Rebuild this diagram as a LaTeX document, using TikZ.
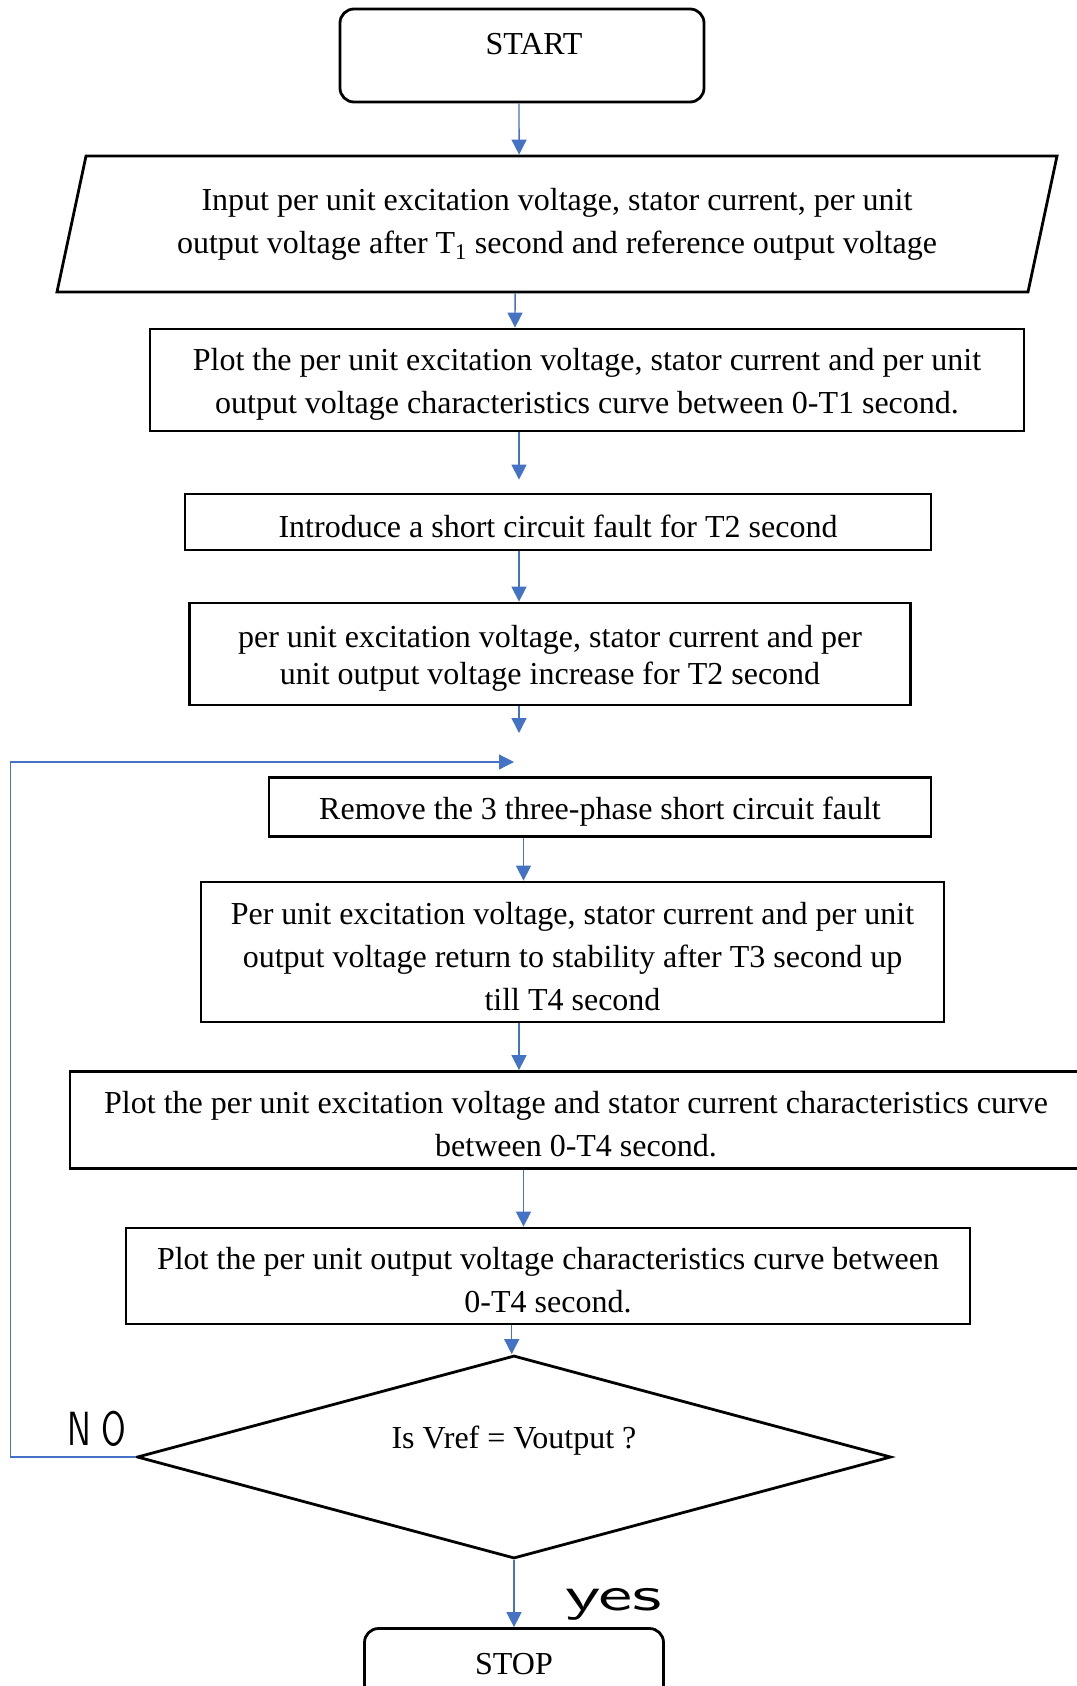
\documentclass[tikz,border=0pt]{standalone}
\usepackage{fontspec}
\setmainfont{Liberation Serif}
\newfontfamily\handfont{lmsans10-regular.otf}[FakeStretch=0.7]
\newfontfamily\handwide{lmsans10-regular.otf}[FakeStretch=1.6]
\usetikzlibrary{shapes.geometric,arrows.meta}
\definecolor{lineblue}{RGB}{68,114,196}

\begin{document}
\begin{tikzpicture}[x=1pt, y=-1pt, >={Triangle[length=15pt,width=15pt]}, font=\fontsize{32}{43}\selectfont] % one unit per pixel of the page
\tikzstyle{startstop} = [rectangle, rounded corners=14pt, draw=black, line width=2.8pt, minimum width=364pt, minimum height=93pt, text depth=23pt]
\tikzstyle{io} = [trapezium, trapezium left angle=72, trapezium right angle=108, trapezium stretches=true, draw=black, line width=2.8pt, align=center, minimum width=1003pt, minimum height=136pt, inner sep=0pt]
\tikzstyle{process} = [rectangle, draw=black, line width=2.8pt, align=center, inner sep=0pt] % text height is raised per box so the text sits a little low
\tikzstyle{decision} = [diamond, shape aspect=3.7, draw=black, line width=2.8pt, minimum width=754pt, minimum height=203pt, inner sep=0pt, text depth=40pt]
\tikzstyle{arrow} = [->, line width=1.4pt, draw=lineblue]
\tikzstyle{loopback} = [->, line width=1.2pt, draw=lineblue]

\useasboundingbox (0,0) rectangle (1076,1686);

% Define the flowchart steps from top to bottom
\node[startstop] (start) at (522,55.5) {\hspace*{24pt}START};
\node[io, below of=start, node distance=168.5pt, xshift=35pt] (input) {Input per unit excitation voltage, stator current, per unit\\ output voltage after T\textsubscript{1} second and reference output voltage};
\node[process, below of=input, node distance=156pt, xshift=30pt, minimum width=874pt, minimum height=102pt, text height=74pt] (plotA) {Plot the per unit excitation voltage, stator current and per unit\\ output voltage characteristics curve between 0-T1 second.};
\node[process, below of=plotA, node distance=142pt, xshift=-29pt, minimum width=746pt, minimum height=56pt, text height=31pt] (fault) {Introduce a short circuit fault for T2 second};
\node[process, below of=fault, node distance=132pt, xshift=-8pt, minimum width=721pt, minimum height=102pt, text height=68pt, font=\fontsize{32}{37}\selectfont] (rise) {per unit excitation voltage, stator current and per\\ unit output voltage increase for T2 second};
\coordinate[below of=rise, node distance=79pt, xshift=-31pt] (merge);
\coordinate[below of=rise, node distance=108pt, xshift=-36pt] (backin);
\node[process, below of=rise, node distance=153pt, xshift=50pt, minimum width=662pt, minimum height=59pt, text height=31pt] (remove) {Remove the 3 three-phase short circuit fault};
\node[process, below of=remove, node distance=145pt, xshift=-27.5pt, minimum width=743pt, minimum height=140pt, text height=117pt] (stable) {Per unit excitation voltage, stator current and per unit\\ output voltage return to stability after T3 second up\\ till T4 second};
\node[process, below of=stable, node distance=168pt, xshift=3.5pt, minimum width=1012pt, minimum height=97pt, text height=74pt] (plotB) {Plot the per unit excitation voltage and stator current characteristics curve\\ between 0-T4 second.};
\node[process, below of=plotB, node distance=156pt, xshift=-28pt, minimum width=844pt, minimum height=96pt, text height=74pt] (plotC) {Plot the per unit output voltage characteristics curve between\\ 0-T4 second.};
\node[decision, below of=plotC, node distance=181pt, xshift=-34pt] (check) {Is Vref = Voutput ?};
\node[startstop, below of=check, node distance=218pt, minimum width=299pt] (stop) {STOP};

% Answers of the check
\node[xshift=-39pt, yshift=28pt, font=\fontsize{48}{48}\handfont] (no) at (check.west) {N\hspace{10pt}O};
\node[xshift=100pt, yshift=-44pt, font=\fontsize{48}{48}\handwide] (yes) at (check.south) {yes};

% Draw arrows between the steps
\draw[arrow] ([xshift=-3pt]start.south) -- ([xshift=-38pt]input.north);
\draw[arrow] ([xshift=-42pt]input.south) -- ([xshift=-72pt]plotA.north);
\draw[arrow] ([xshift=-68pt]plotA.south) -- ([xshift=-39pt, yshift=13pt]fault.north);
\draw[arrow] ([xshift=-39pt]fault.south) -- ([xshift=-31pt]rise.north);
\draw[arrow] ([xshift=-31pt]rise.south) -- (merge);
\draw[arrow] ([xshift=-76.5pt]remove.south) -- ([xshift=-49pt]stable.north);
\draw[arrow] ([xshift=-53.5pt]stable.south) -- ([xshift=-57pt]plotB.north);
\draw[arrow] ([xshift=-52.5pt]plotB.south) -- ([xshift=-24.5pt]plotC.north);
\draw[arrow] ([xshift=-36.3pt]plotC.south) -- ([xshift=-2.3pt]check.north);
\draw[arrow] (check.south) -- (stop.north);
\draw[loopback] (check.west) -- ++(-125pt,0pt) |- (backin);

\end{tikzpicture}
\end{document}
